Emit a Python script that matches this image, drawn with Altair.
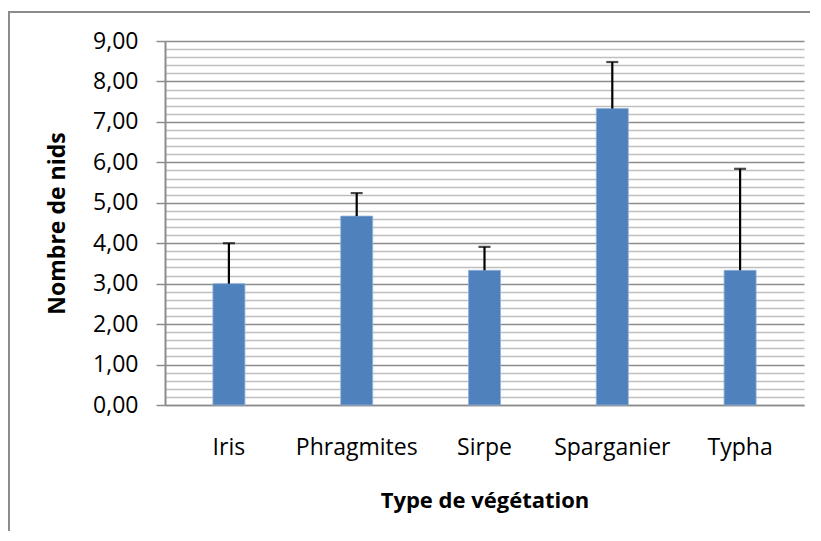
import altair as alt
import pandas as pd

categories = ["Iris", "Phragmites", "Sirpe", "Sparganier", "Typha"]
means = [3.00, 4.67, 3.33, 7.33, 3.33]
errors = [1.00, 0.57, 0.58, 1.15, 2.51]

df = pd.DataFrame({"cat": categories, "mean": means, "err": errors})
df["top"] = df["mean"] + df["err"]

FONT = "Open Sans"
tick_values = [round(i * 0.2, 1) for i in range(46)]
is_major = "abs(datum.value - round(datum.value)) < 0.001"

x_enc = alt.X(
    "cat:N",
    sort=categories,
    title="Type de végétation",
    scale=alt.Scale(paddingInner=0, paddingOuter=0),
    axis=alt.Axis(
        labelAngle=0,
        ticks=False,
        labelPadding=31,
        labelFont=FONT,
        labelFontSize=23,
        labelColor="#000000",
        titleFont=FONT,
        titleFontSize=22,
        titleFontWeight="bold",
        titleColor="#000000",
        titlePadding=31,
        domainColor="#8c8c8c",
        domainWidth=1.5,
        grid=False,
    ),
)

y_scale = alt.Scale(domain=[0, 9], nice=False)

bars = alt.Chart(df).mark_bar(size=32, color="#4f81bd", stroke="#8fb0d8", strokeWidth=0.8).encode(
    x=x_enc,
    y=alt.Y(
        "mean:Q",
        scale=y_scale,
        title="Nombre de nids",
        axis=alt.Axis(
            values=tick_values,
            tickCount=100,
            labelExpr=f"({is_major}) ? replace(format(datum.value, '.2f'), '.', ',') : ''",
            labelOverlap=False,
            labelPadding=18,
            labelFont=FONT,
            labelFontSize=23,
            labelColor="#000000",
            tickSize=9,
            tickColor="#8c8c8c",
            tickWidth=1.5,
            tickOpacity=alt.condition(is_major, alt.value(1), alt.value(0)),
            titleFont=FONT,
            titleFontSize=23,
            titleFontWeight="bold",
            titleColor="#000000",
            titlePadding=23,
            domainColor="#8c8c8c",
            domainWidth=2,
            grid=True,
            gridColor=alt.condition(is_major, alt.value("#8c8c8c"), alt.value("#bfbfbf")),
            gridWidth=1.3,
        ),
    ),
)

err_rule = alt.Chart(df).mark_rule(color="#000000", strokeWidth=2.2).encode(
    x=alt.X("cat:N", sort=categories),
    y=alt.Y("mean:Q", scale=y_scale),
    y2="top:Q",
)

err_cap = alt.Chart(df).mark_tick(color="#000000", size=12, thickness=2.2).encode(
    x=alt.X("cat:N", sort=categories),
    y=alt.Y("top:Q", scale=y_scale),
)

frame_data = alt.Data(values=[{"a": 1}])
left_border = alt.Chart(frame_data).mark_rule(color="#8c8c8c", strokeWidth=2).encode(
    x=alt.value(-156), y=alt.value(-29), y2=alt.value(700)
)
top_border = alt.Chart(frame_data).mark_rule(color="#8c8c8c", strokeWidth=2).encode(
    x=alt.value(-157), x2=alt.value(645), y=alt.value(-29)
)

chart = alt.layer(bars, err_rule, err_cap, left_border, top_border).properties(
    width=639,
    height=364,
    autosize=alt.AutoSizeParams(type="none"),
    padding={"left": 157, "top": 33, "right": 8, "bottom": 126},
    background="#ffffff",
).configure_view(stroke=None)

chart.save("out.html", embed_options={"renderer": "svg", "actions": False})
